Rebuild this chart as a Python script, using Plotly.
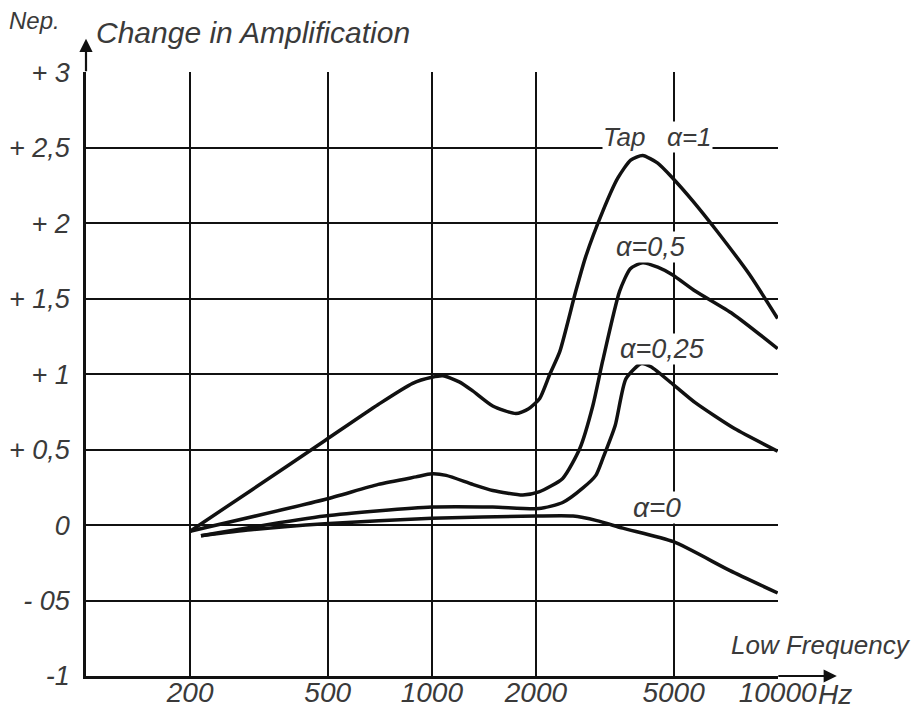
import plotly.graph_objects as go

# Frequency (Hz) and change in amplification (Neper)
f_tap1 = [200, 300, 490, 700, 880, 1000, 1077, 1200, 1313, 1500, 1750, 1900,
          2051, 2193, 2344, 2607, 2786, 3120, 3448, 3758, 4070, 4500, 4975,
          5680, 6620, 8300, 10000]
a_tap1 = [-0.04, 0.23, 0.56, 0.80, 0.94, 0.98, 0.99, 0.95, 0.89, 0.79, 0.74,
          0.77, 0.84, 1.00, 1.15, 1.55, 1.78, 2.08, 2.30, 2.42, 2.45, 2.40,
          2.30, 2.15, 1.96, 1.66, 1.37]

f_tap05 = [200, 490, 700, 900, 1000, 1100, 1313, 1500, 1833, 2040, 2390, 2680,
           2920, 3120, 3490, 3750, 4070, 4500, 4960, 5790, 7420, 10000]
a_tap05 = [-0.04, 0.17, 0.27, 0.32, 0.34, 0.33, 0.27, 0.23, 0.20, 0.22, 0.31,
           0.51, 0.79, 1.09, 1.55, 1.70, 1.74, 1.71, 1.66, 1.55, 1.40, 1.17]

f_tap025 = [215, 490, 1000, 1500, 2040, 2390, 2730, 2980, 3120, 3390, 3640,
            4020, 4300, 5000, 5790, 7500, 10000]
a_tap025 = [-0.07, 0.06, 0.12, 0.12, 0.11, 0.15, 0.245, 0.33, 0.44, 0.66,
            0.97, 1.07, 1.05, 0.93, 0.81, 0.64, 0.49]

f_tap0 = [215, 300, 490, 1000, 2000, 2560, 3000, 3565, 5000, 7260, 10000]
a_tap0 = [-0.07, -0.03, 0.01, 0.045, 0.06, 0.06, 0.03, -0.02, -0.11, -0.30,
          -0.45]

x_ticks = [200, 500, 1000, 2000, 5000, 10000]
x_labels = ['200', '500', '1000', '2000', '5000', '10000']
y_ticks = [-1, -0.5, 0, 0.5, 1, 1.5, 2, 2.5, 3]
y_labels = ['-1', '- 05', '0', '+ 0,5', '+ 1', '+ 1,5', '+ 2', '+ 2,5', '+ 3']

FONT = 'Liberation Sans, Roboto, sans-serif'
INK = '#111111'
TXT = '#3a3a3a'

fig = go.Figure()
for fx, ay in [(f_tap1, a_tap1), (f_tap05, a_tap05),
               (f_tap025, a_tap025), (f_tap0, a_tap0)]:
    fig.add_trace(go.Scatter(
        x=fx, y=ay, mode='lines',
        line=dict(color=INK, width=3.5, shape='spline', smoothing=0.6),
        hoverinfo='skip', showlegend=False))


def label(text, x, y, size=27, bg='white', pad=0, xanchor='center'):
    fig.add_annotation(text=text, x=x, y=y, xref='paper', yref='paper',
                       xanchor=xanchor, yanchor='middle',
                       showarrow=False, bgcolor=bg, borderpad=pad,
                       font=dict(family=FONT, size=size, color=TXT,
                                 style='italic'))


label('Tap   α=1', 0.826, 0.892, size=26)
label('α=0,5', 0.817, 0.710)
label('α=0,25', 0.833, 0.542)
label('α=0', 0.825, 0.279, size=28)
label('Low Frequency', 1.062, 0.052, size=26, pad=2)
label('Hz', 1.082, -0.030, size=28, bg='rgba(0,0,0,0)')
label('Nep.', -0.075, 1.086, size=24, bg='rgba(0,0,0,0)')
label('Change in Amplification', 0.013, 1.066, size=30,
      bg='rgba(0,0,0,0)', xanchor='left')

# axis arrows
fig.add_annotation(x=0, y=1.055, xref='paper', yref='paper', text='',
                   showarrow=True, ax=0, ay=34, arrowhead=2, arrowsize=1.2,
                   arrowwidth=2.2, arrowcolor=INK)
fig.add_annotation(x=1.085, y=0, xref='paper', yref='paper', text='',
                   showarrow=True, ax=-60, ay=0, arrowhead=2, arrowsize=1.2,
                   arrowwidth=2.2, arrowcolor=INK)

# page body has an 8px margin, so the figure is sized to fit the window
fig.update_layout(
    width=913, height=704,
    margin=dict(l=78, r=143, t=64, b=36),
    paper_bgcolor='white', plot_bgcolor='white',
    font=dict(family=FONT, size=26, color=TXT, style='italic'),
)
fig.update_xaxes(
    type='log', range=[2, 4.001], automargin=False,
    tickvals=x_ticks, ticktext=x_labels, ticks='',
    ticklabelstandoff=-10,
    tickfont=dict(family=FONT, size=28, color=TXT, style='italic'),
    showgrid=True, gridcolor=INK, gridwidth=1.6,
    showline=True, linecolor=INK, linewidth=2.5, zeroline=False,
)
fig.update_yaxes(
    range=[-1, 3.004], automargin=False,
    tickvals=y_ticks, ticktext=y_labels, ticks='',
    ticklabelstandoff=8,
    tickfont=dict(family=FONT, size=27, color=TXT, style='italic'),
    showgrid=True, gridcolor=INK, gridwidth=1.6,
    showline=True, linecolor=INK, linewidth=2.5, zeroline=False,
)

fig.write_html('out.html')
